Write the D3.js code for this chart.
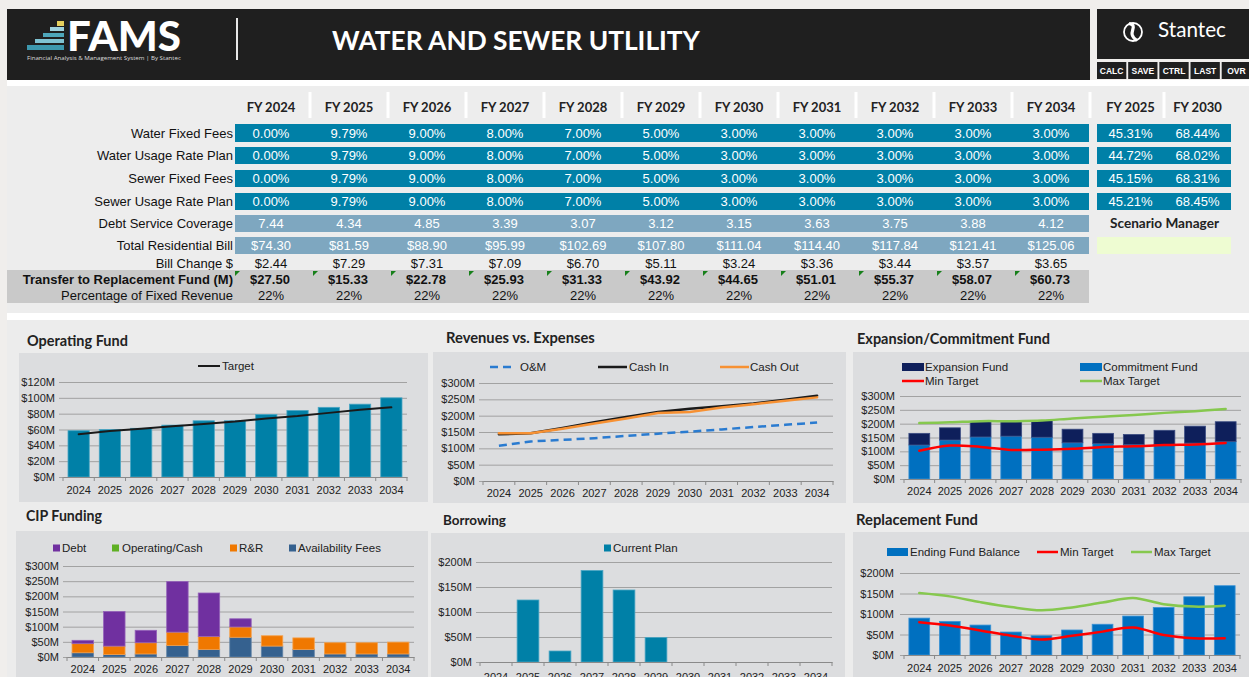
<!DOCTYPE html>
<html><head><meta charset="utf-8">
<script src="https://cdn.jsdelivr.net/npm/d3@7"></script>
<style>
body{margin:0;background:#f0eeec;}
svg{display:block}
text{font-family:"Liberation Sans",Arial,sans-serif;}
.ttl{font-family:Lato,"Noto Sans",sans-serif;font-weight:700;fill:#222;}
</style>
</head><body><svg id="c" width="1249" height="677"></svg>
<script>
// ---------------- DATA ----------------
const years = [2024,2025,2026,2027,2028,2029,2030,2031,2032,2033,2034];
const waterFixed = [0,9.79,9,8,7,5,3,3,3,3,3];
const waterUsage = [0,9.79,9,8,7,5,3,3,3,3,3];
const sewerFixed = [0,9.79,9,8,7,5,3,3,3,3,3];
const sewerUsage = [0,9.79,9,8,7,5,3,3,3,3,3];
const debtCoverage = [7.44,4.34,4.85,3.39,3.07,3.12,3.15,3.63,3.75,3.88,4.12];
const residentialBill = [74.30,81.59,88.90,95.99,102.69,107.80,111.04,114.40,117.84,121.41,125.06];
const billChange = [2.44,7.29,7.31,7.09,6.70,5.11,3.24,3.36,3.44,3.57,3.65];
const transferFund = [27.50,15.33,22.78,25.93,31.33,43.92,44.65,51.01,55.37,58.07,60.73];
const pctFixedRevenue = [22,22,22,22,22,22,22,22,22,22,22];
const cumulativeHeads = ["FY 2025","FY 2030"];
const cumulative2025 = [45.31,44.72,45.15,45.21];
const cumulative2030 = [68.44,68.02,68.31,68.45];
const buttons = ["CALC","SAVE","CTRL","LAST","OVR"];

const opFund = [58.5,60,61.5,65.5,71,71,79,84,88,92,100];
const opTarget = [54,58,61,64,67,70,74,77,81,85,88];

const cashIn = [143,146,162,180,196,211,221,229,237,249,261];
const cashOut = [146,146,160,176,191,208,211,225,235,246,256];
const omCost = [108,121,126,131,138,145,151,158,165,172,179];

const commitmentFund = [123,141,152,155,151,131,128,125,125,130,135];
const expansionFund = [42,44,55,52,60,49,37,36,51,61,72];
const expMinTarget = [102,121,116,105,106,109,116,118,123,125,130];
const expMaxTarget = [202,205,209,209,211,219,225,231,239,245,253];

const cipAvailability = [14,8,10,38,25,65,36,25,10,10,10];
const cipOperating = [0,0,0,0,0,0,0,0,0,0,0];
const cipRR = [30,28,37,44,43,34,34,38,37,37,39];
const cipDebt = [11,114,41,167,143,27,0,0,0,0,0];

const borrowing = [0,124,22,183,144,49,0,0,0,0,0];

const repBalance = [90,82,73,56,47,61,75,95,116,142,169];
const repMinTarget = [80,72,60,47,38,47,57,67,49,41,41];
const repMaxTarget = [151,143,129,117,109,116,128,139,124,118,120];

// ---------------- HELPERS ----------------
const svg = d3.select('#c');
const teal = '#0080a7', steel = '#7ea7c0';
function fit(sel, w){
  const L = sel.node().getComputedTextLength();
  const fs = parseFloat(sel.attr('font-size'));
  if (L>0) sel.attr('font-size', fs*w/L);
  return sel;
}
const pct = v => v.toFixed(2)+'%';
const money = v => '$'+v.toFixed(2);

// ---------------- BACKGROUNDS ----------------
svg.append('rect').attr('width',1249).attr('height',677).attr('fill','#f0eeec');
svg.append('rect').attr('x',7).attr('y',80).attr('width',1242).attr('height',240).attr('fill','#ffffff');
svg.append('rect').attr('x',7).attr('y',86).attr('width',1242).attr('height',227).attr('fill','#ededed');
svg.append('rect').attr('x',7).attr('y',320).attr('width',1242).attr('height',357).attr('fill','#ececec');

// ---------------- HEADER ----------------
svg.append('rect').attr('x',7).attr('y',9).attr('width',1083).attr('height',71).attr('fill','#1f1f1f');
// FAMS stair logo
const stairs = [
  {x:57,y:21,w:7,h:5,c:'#e5cf5e'},
  {x:50,y:27,w:14,h:4,c:'#9dd1de'},
  {x:43,y:33,w:21,h:4,c:'#4ea6ba'},
  {x:35,y:39,w:29,h:4,c:'#7fc3d3'},
  {x:27,y:45,w:37,h:5,c:'#3d98ae'}
];
svg.selectAll('.stair').data(stairs).join('rect').attr('x',d=>d.x).attr('y',d=>d.y).attr('width',d=>d.w).attr('height',d=>d.h).attr('fill',d=>d.c);
fit(svg.append('text').attr('x',67).attr('y',51).attr('font-size',40).attr('font-weight',900)
  .style('font-family','Lato,"Open Sans",sans-serif').attr('fill','#fff').text('FAMS'),114);
fit(svg.append('text').attr('x',27).attr('y',60).attr('font-size',6).attr('fill','#ddd')
  .style('font-family','"Open Sans",sans-serif').text('Financial Analysis & Management System | By Stantec'),154);
svg.append('rect').attr('x',236).attr('y',18).attr('width',2).attr('height',42).attr('fill','#e8e8e8');
fit(svg.append('text').attr('x',332).attr('y',50).attr('font-size',25).attr('font-weight',700)
  .style('font-family','Lato,"Open Sans",sans-serif').attr('fill','#fff').text('WATER AND SEWER UTLILITY'),368);

// Stantec box
svg.append('rect').attr('x',1097).attr('y',9).attr('width',152).attr('height',50).attr('fill','#1f1f1f');
svg.append('circle').attr('cx',1133).attr('cy',32).attr('r',9).attr('fill','none').attr('stroke','#fff').attr('stroke-width',1.8);
svg.append('path').attr('d','M1129,23.5 C1140,26 1125,33 1137,40.5').attr('fill','none').attr('stroke','#fff').attr('stroke-width',3.2);
fit(svg.append('text').attr('x',1158).attr('y',37).attr('font-size',15).attr('fill','#fff')
  .style('font-family','Lato,"Open Sans",sans-serif').text('Stantec'),68);
const bx = d3.scaleBand().domain(buttons).range([1097,1251]).paddingInner(0.06);
svg.selectAll('.btn').data(buttons).join('rect').attr('x',d=>bx(d)).attr('y',62).attr('width',bx.bandwidth()).attr('height',17).attr('fill','#1f1f1f');
svg.selectAll('.btnt').data(buttons).join('text').attr('x',d=>bx(d)+bx.bandwidth()/2).attr('y',74)
  .attr('text-anchor','middle').attr('font-size',8.5).attr('font-weight',700).attr('fill','#fff')
  .style('font-family','"Liberation Sans Narrow","Liberation Sans",sans-serif').text(d=>d);

// ---------------- TABLE ----------------
const colX = d3.scaleBand().domain(years).range([232,1090]);
const cw = colX.bandwidth();
// header separators
svg.selectAll('.sep').data(years.slice(1)).join('rect').attr('x',d=>colX(d)-1.5).attr('y',92).attr('width',3).attr('height',26).attr('fill','#fff');
svg.append('rect').attr('x',1088.5).attr('y',92).attr('width',3).attr('height',26).attr('fill','#fff');
svg.selectAll('.hdr').data(years).join('text').attr('class','ttl').attr('x',d=>colX(d)+cw/2).attr('y',107).attr('dy','0.35em')
  .attr('text-anchor','middle').attr('font-size',13).text(d=>'FY '+d);
const rcol = d3.scaleBand().domain(cumulativeHeads).range([1097,1231]);
svg.append('rect').attr('x',rcol('FY 2030')-1.5).attr('y',92).attr('width',3).attr('height',26).attr('fill','#fff');
svg.selectAll('.rhdr').data(cumulativeHeads).join('text').attr('class','ttl').attr('x',d=>rcol(d)+rcol.bandwidth()/2).attr('y',107).attr('dy','0.35em')
  .attr('text-anchor','middle').attr('font-size',13).text(d=>d);

const barRows = [
  {label:'Water Fixed Fees', vals:waterFixed, fmt:pct, fill:teal, y0:124, y1:142, right:[cumulative2025[0],cumulative2030[0]]},
  {label:'Water Usage Rate Plan', vals:waterUsage, fmt:pct, fill:teal, y0:147, y1:164, right:[cumulative2025[1],cumulative2030[1]]},
  {label:'Sewer Fixed Fees', vals:sewerFixed, fmt:pct, fill:teal, y0:170, y1:187, right:[cumulative2025[2],cumulative2030[2]]},
  {label:'Sewer Usage Rate Plan', vals:sewerUsage, fmt:pct, fill:teal, y0:193, y1:210, right:[cumulative2025[3],cumulative2030[3]]},
  {label:'Debt Service Coverage', vals:debtCoverage, fmt:v=>v.toFixed(2), fill:steel, y0:215, y1:232},
  {label:'Total Residential Bill', vals:residentialBill, fmt:money, fill:steel, y0:237, y1:254}
];
barRows.forEach(r=>{
  const cy = (r.y0+r.y1)/2;
  svg.append('rect').attr('x',235).attr('y',r.y0).attr('width',854).attr('height',r.y1-r.y0).attr('fill',r.fill);
  svg.append('text').attr('x',233).attr('y',cy).attr('dy','0.35em').attr('text-anchor','end').attr('font-size',13).attr('fill','#111').text(r.label);
  svg.selectAll(null).data(r.vals).join('text').attr('x',(d,i)=>colX(years[i])+cw/2).attr('y',cy).attr('dy','0.35em')
    .attr('text-anchor','middle').attr('font-size',13).attr('fill','#fff').text(d=>r.fmt(d));
  if (r.right){
    svg.append('rect').attr('x',1097).attr('y',r.y0).attr('width',134).attr('height',r.y1-r.y0).attr('fill',teal);
    svg.selectAll(null).data(r.right).join('text').attr('x',(d,i)=>rcol(cumulativeHeads[i])+rcol.bandwidth()/2).attr('y',cy).attr('dy','0.35em')
      .attr('text-anchor','middle').attr('font-size',13).attr('fill','#fff').text(d=>pct(d));
  }
});
fit(svg.append('text').attr('class','ttl').attr('x',1110).attr('y',223).attr('dy','0.35em').attr('font-size',12).attr('fill','#333').text('Scenario Manager'),109);
svg.append('rect').attr('x',1097).attr('y',237).attr('width',134).attr('height',17).attr('fill','#eefcd2');

// Bill change row
svg.append('text').attr('x',233).attr('y',263).attr('dy','0.35em').attr('text-anchor','end').attr('font-size',13).attr('fill','#111').text('Bill Change $');
svg.selectAll('.bc').data(billChange).join('text').attr('x',(d,i)=>colX(years[i])+cw/2).attr('y',263).attr('dy','0.35em')
  .attr('text-anchor','middle').attr('font-size',13).attr('fill','#111').text(d=>money(d));
// Transfer band
svg.append('rect').attr('x',7).attr('y',270).attr('width',1082).attr('height',33).attr('fill','#c9c9c9');
svg.append('text').attr('x',233).attr('y',279).attr('dy','0.35em').attr('text-anchor','end').attr('font-size',13).attr('font-weight',700).attr('fill','#111').text('Transfer to Replacement Fund (M)');
svg.selectAll('.tri').data(years).join('path').attr('d',d=>{const x=colX(d)+3;return `M${x},271 L${x+5},271 L${x},276 Z`;}).attr('fill','#17801a');
svg.selectAll('.tf').data(transferFund).join('text').attr('x',(d,i)=>colX(years[i])+cw/2-1).attr('y',279).attr('dy','0.35em')
  .attr('text-anchor','middle').attr('font-size',13).attr('font-weight',700).attr('fill','#111').text(d=>money(d));
svg.append('text').attr('x',233).attr('y',295).attr('dy','0.35em').attr('text-anchor','end').attr('font-size',13).attr('fill','#111').text('Percentage of Fixed Revenue');
svg.selectAll('.pf').data(pctFixedRevenue).join('text').attr('x',(d,i)=>colX(years[i])+cw/2).attr('y',295).attr('dy','0.35em')
  .attr('text-anchor','middle').attr('font-size',13).attr('fill','#111').text(d=>d+'%');

// ---------------- CHARTS ----------------
function chart(o){
  const g = svg.append('g');
  g.append('rect').attr('x',o.px).attr('y',o.py).attr('width',o.pw).attr('height',o.ph).attr('fill','#dcdddf');
  fit(g.append('text').attr('class','ttl').attr('x',o.tx).attr('y',o.ty).attr('font-size',13).text(o.title), o.tw);
  const x = d3.scaleBand().domain(years).range([o.x0,o.x1]).paddingInner(0.32).paddingOuter(0.16);
  const y = d3.scaleLinear().domain([0,o.max]).range([o.yb,o.yt]);
  const ticks = d3.range(0,o.max+0.001,o.step);
  const ya = g.append('g').attr('transform',`translate(${o.x0},0)`)
    .call(d3.axisLeft(y).tickValues(ticks).tickSize(-(o.x1-o.x0)).tickSizeOuter(0).tickPadding(o.ylp||8).tickFormat(d=>`$${d}M`));
  ya.select('.domain').remove();
  ya.selectAll('.tick line').attr('stroke','#a2a2a2').attr('x1',-4);
  ya.selectAll('.tick text').attr('font-size',11).attr('fill','#222').style('font-family','"Liberation Sans",Arial,sans-serif');
  // stacked bars
  if (o.stack){
    const rows = years.map((yr,i)=>{const r={year:yr}; o.stack.forEach(s=>r[s.key]=s.vals[i]); return r;});
    const series = d3.stack().keys(o.stack.map(s=>s.key))(rows);
    series.forEach((s,si)=>{
      g.selectAll(null).data(s).join('rect')
        .attr('x',d=>x(d.data.year)).attr('width',x.bandwidth())
        .attr('y',d=>y(d[1])).attr('height',d=>Math.max(0,y(d[0])-y(d[1])))
        .attr('fill',o.stack[si].color)
        .attr('stroke',d=>d[1]-d[0]>0?o.stack[si].edge:'none').attr('stroke-width',0.8);
    });
  }
  const xa = g.append('g').attr('transform',`translate(0,${o.yb})`)
    .call(d3.axisBottom(x).tickSize(0).tickSizeOuter(0).tickPadding(o.xlp||8));
  xa.select('.domain').attr('stroke','#8a8a8a');
  xa.selectAll('.tick text').attr('font-size',11).attr('fill','#222').style('font-family','"Liberation Sans",Arial,sans-serif');
  g.selectAll(null).data(d3.range(years.length+1)).join('line')
    .attr('x1',i=>o.x0+i*x.step()).attr('x2',i=>o.x0+i*x.step()).attr('y1',o.yb).attr('y2',o.yb+4).attr('stroke','#8a8a8a');
  // lines
  (o.lines||[]).forEach(l=>{
    const line = d3.line().x((d,i)=>x(years[i])+x.bandwidth()/2).y(d=>y(d)).curve(l.curve||d3.curveLinear);
    g.append('path').attr('d',line(l.vals)).attr('fill','none').attr('stroke',l.color).attr('stroke-width',l.width||2)
      .attr('stroke-dasharray',l.dash||null).attr('stroke-linecap',l.dash?'butt':'round');
  });
  // legend
  (o.legend||[]).forEach(it=>{
    if (it.type==='line'){
      g.append('line').attr('x1',it.x).attr('x2',it.x+it.w).attr('y1',it.y).attr('y2',it.y).attr('stroke',it.color).attr('stroke-width',it.sw||2.5).attr('stroke-dasharray',it.dash||null);
    } else if (it.type==='rect'){
      g.append('rect').attr('x',it.x).attr('y',it.y-4).attr('width',it.w).attr('height',8).attr('fill',it.color);
    } else {
      g.append('rect').attr('x',it.x).attr('y',it.y-3.5).attr('width',7).attr('height',7).attr('fill',it.color);
    }
    g.append('text').attr('x',it.tx).attr('y',it.y).attr('dy','0.35em').attr('font-size',11.5).attr('fill','#222').text(it.label);
  });
}

const smooth = d3.curveCatmullRom.alpha(0.5);

chart({title:'Operating Fund', px:19,py:353,pw:409,ph:149, tx:27,ty:346,tw:101,
  x0:63,x1:407,yt:382,yb:477,max:120,step:20,xlp:9,
  stack:[{key:'fund',vals:opFund,color:'#0080a7',edge:'#4aa6c4'}],
  lines:[{vals:opTarget,color:'#1a1a1a',width:2}],
  legend:[{type:'line',x:198,w:22,y:366,color:'#1a1a1a',sw:2,tx:222,label:'Target'}]});

chart({title:'Revenues vs. Expenses', px:433,py:352,pw:413,ph:151, tx:446,ty:343,tw:149,
  x0:483,x1:833,yt:383,yb:481,max:300,step:50,xlp:8,
  lines:[{vals:omCost,color:'#2a7bd0',width:2.5,dash:'8,5'},
         {vals:cashIn,color:'#1a1a1a',width:2.5},
         {vals:cashOut,color:'#f79133',width:2.5}],
  legend:[{type:'line',x:490,w:26,y:367,color:'#2a7bd0',dash:'8,5',tx:520,label:'O&M'},
          {type:'line',x:598,w:29,y:367,color:'#1a1a1a',tx:629,label:'Cash In'},
          {type:'line',x:720,w:29,y:367,color:'#f79133',tx:750,label:'Cash Out'}]});

chart({title:'Expansion/Commitment Fund', px:853,py:352,pw:396,ph:151, tx:857,ty:344,tw:193,
  x0:904,x1:1241,yt:396,yb:479,max:300,step:50,xlp:8,ylp:9,
  stack:[{key:'commit',vals:commitmentFund,color:'#0070c0',edge:'#3b93d6'},
         {key:'exp',vals:expansionFund,color:'#0e1f5b',edge:'#3b4c82'}],
  lines:[{vals:expMinTarget,color:'#ff0000',width:2.5,curve:smooth},
         {vals:expMaxTarget,color:'#86c84e',width:2.5,curve:smooth}],
  legend:[{type:'rect',x:902,w:22,y:367,color:'#0e1f5b',tx:925,label:'Expansion Fund'},
          {type:'rect',x:1080,w:22,y:367,color:'#0070c0',tx:1103,label:'Commitment Fund'},
          {type:'line',x:902,w:22,y:381,color:'#ff0000',tx:925,label:'Min Target'},
          {type:'line',x:1080,w:22,y:381,color:'#86c84e',tx:1103,label:'Max Target'}]});

chart({title:'CIP Funding', px:16,py:531,pw:412,ph:146, tx:26,ty:521,tw:76,
  x0:67,x1:414,yt:566,yb:657,max:300,step:50,xlp:8,
  stack:[{key:'avail',vals:cipAvailability,color:'#35618f',edge:'#6585a8'},
         {key:'op',vals:cipOperating,color:'#5fb024',edge:'#8cc860'},
         {key:'rr',vals:cipRR,color:'#f07800',edge:'#f5a04a'},
         {key:'debt',vals:cipDebt,color:'#7030a0',edge:'#9563ba'}],
  legend:[{type:'sq',x:53,y:548,color:'#7030a0',tx:62,label:'Debt'},
          {type:'sq',x:112,y:548,color:'#5fb024',tx:122,label:'Operating/Cash'},
          {type:'sq',x:230,y:548,color:'#f07800',tx:239,label:'R&R'},
          {type:'sq',x:289,y:548,color:'#35618f',tx:298,label:'Availability Fees'}]});

chart({title:'Borrowing', px:431,py:533,pw:414,ph:144, tx:443,ty:525,tw:63,
  x0:480,x1:832,yt:562,yb:662,max:200,step:50,xlp:11,
  stack:[{key:'plan',vals:borrowing,color:'#0080a7',edge:'#4aa6c4'}],
  legend:[{type:'sq',x:604,y:548,color:'#0080a7',tx:613,label:'Current Plan'}]});

chart({title:'Replacement Fund', px:853,py:532,pw:396,ph:145, tx:856,ty:525,tw:122,
  x0:904,x1:1240,yt:573,yb:655,max:200,step:50,xlp:9,ylp:10,
  stack:[{key:'bal',vals:repBalance,color:'#0070c0',edge:'#3b93d6'}],
  lines:[{vals:repMinTarget,color:'#ff0000',width:2.5,curve:smooth},
         {vals:repMaxTarget,color:'#86c84e',width:2.5,curve:smooth}],
  legend:[{type:'rect',x:887,w:21,y:552,color:'#0070c0',tx:910,label:'Ending Fund Balance'},
          {type:'line',x:1037,w:21,y:552,color:'#ff0000',tx:1060,label:'Min Target'},
          {type:'line',x:1131,w:21,y:552,color:'#86c84e',tx:1154,label:'Max Target'}]});
</script>
</body></html>
